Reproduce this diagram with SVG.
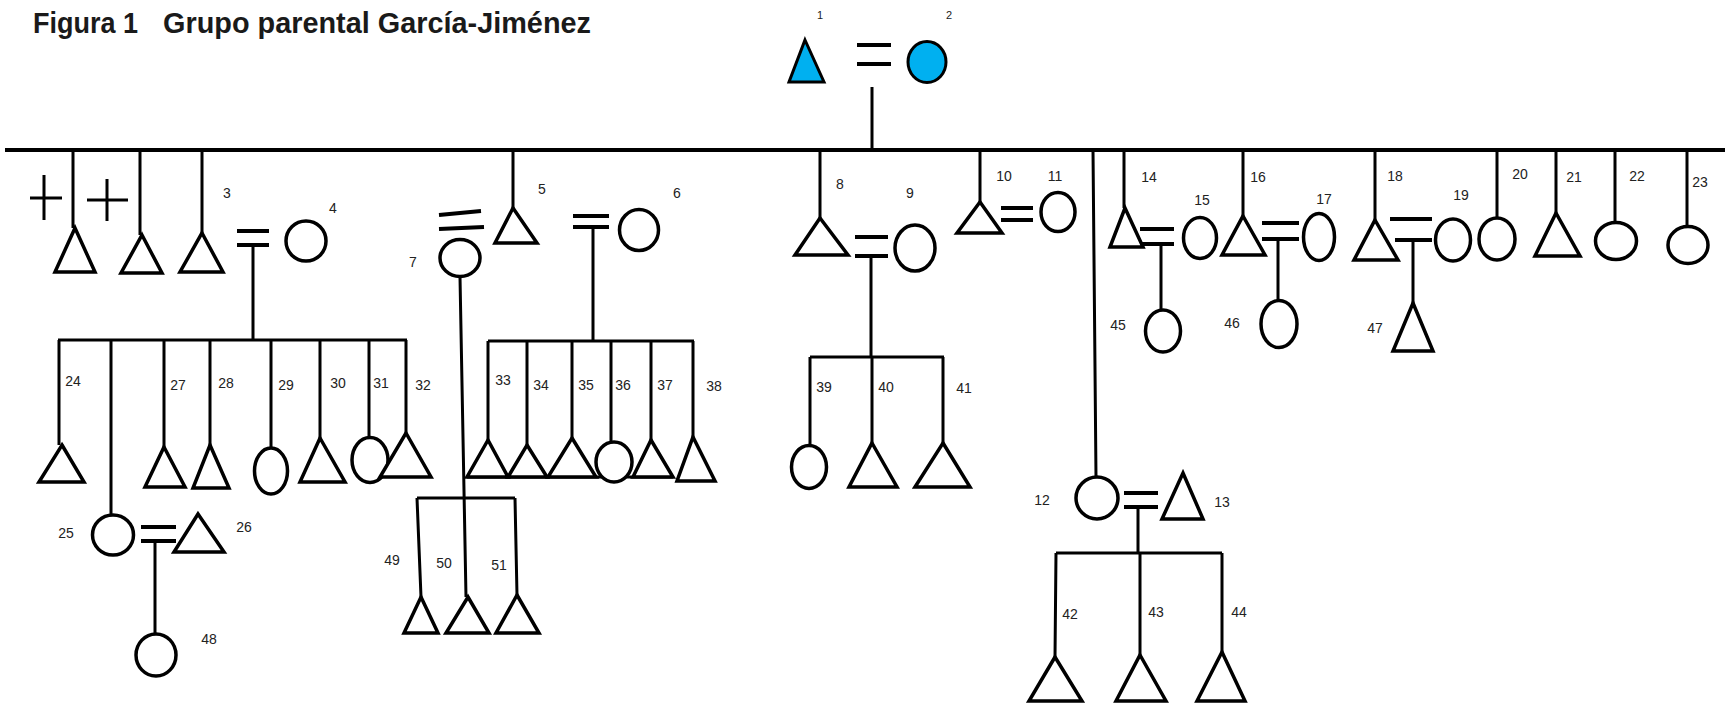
<svg xmlns="http://www.w3.org/2000/svg" width="1732" height="710" viewBox="0 0 1732 710">
<style>
.s{fill:#fff;stroke:#000;stroke-width:3.5;stroke-linejoin:miter}
.b{fill:#00B0F0;stroke:#000;stroke-width:3}
.c{fill:none;stroke:#000;stroke-width:3;stroke-linecap:butt}
.m{fill:none;stroke:#000;stroke-width:4}
.l{font-family:"Liberation Sans",Arial,sans-serif;font-size:14px;fill:#222;text-anchor:middle}
.t{font-family:"Liberation Sans",Arial,sans-serif;font-size:29px;font-weight:bold;fill:#1a1a1a}
</style>
<rect width="1732" height="710" fill="#fff"/>
<text class="t" x="33" y="33" textLength="105" lengthAdjust="spacingAndGlyphs">Figura 1</text>
<text class="t" x="163" y="33" textLength="428" lengthAdjust="spacingAndGlyphs">Grupo parental García-Jiménez</text>

<g id="connectors">
<path class="m" d="M5 150H1725"/>
<path class="c" d="M872 87V150"/>
<path class="m" d="M857 45H891M857 64H891"/>
<path class="c" d="M73 150V228M140 150V235M202 150V233M513 150V208M820 150V218M980 150V202M1093 150L1096 477M1124 150V208M1243 150V216M1375 150V220M1497 150V217M1556 150V213M1615 150V223M1687 150V226"/>
<path class="m" d="M237 231H269M237 245H269"/>
<path class="c" d="M253 245V340M58 340H407M59 340V445M111 340V515M164 340V447M210 340V445M271 340V448M320 340V438M369 340V437M406 340V433"/>
<path class="m" d="M141 527H176M141 541H176"/>
<path class="c" d="M155 541V634"/>
<path class="m" d="M439 215L481 211M439 229L484 227"/>
<path class="c" d="M460 277L466 597M417 498H515M417 498L421 597M515 498L517 595"/>
<path class="m" d="M573 216H609M573 227H609"/>
<path class="c" d="M593 227V341M488 341H694M488 341V440M527 341V445M572 341V438M611 341V442M651 341V440M693 341V437M467 477H673"/>
<path class="m" d="M855 237H888M855 256H888"/>
<path class="c" d="M871 256V357M810 357H944M810 357V445M872 357V443M943 357V443"/>
<path class="m" d="M1001 208H1033M1001 220H1033"/>
<path class="m" d="M1124 493H1158M1124 507H1158"/>
<path class="c" d="M1138 507V553M1056 553H1222M1056 553L1055 657M1140 553V655M1222 553V652"/>
<path class="m" d="M1140 229H1174M1140 244H1174"/>
<path class="c" d="M1161 244V310"/>
<path class="m" d="M1262 223H1299M1262 239H1299"/>
<path class="c" d="M1278 239V300"/>
<path class="m" d="M1390 219H1432M1395 240H1432"/>
<path class="c" d="M1413 240V303"/>
</g>

<g id="n1"><path class="b" d="M805 40L824 82H789Z"/><text class="l" style="font-size:11px" x="820" y="19">1</text></g>
<g id="n2"><ellipse class="b" cx="927" cy="62" rx="19" ry="20.5"/><text class="l" style="font-size:11px" x="949" y="19">2</text></g>

<g id="nx1"><path class="s" d="M75 228L95 272H55Z"/><path class="c" d="M30 198H62M44 175V220"/></g>
<g id="nx2"><path class="s" d="M142 235L162 273H121Z"/><path class="c" d="M87 200H128M107 179V221"/></g>
<g id="n3"><path class="s" d="M202 233L223 272H180Z"/><text class="l" x="227" y="198">3</text></g>
<g id="n4"><ellipse class="s" cx="306" cy="241" rx="20" ry="20"/><text class="l" x="333" y="213">4</text></g>
<g id="n5"><path class="s" d="M513 208L537 243H495Z"/><text class="l" x="542" y="194">5</text></g>
<g id="n6"><ellipse class="s" cx="639" cy="230" rx="19.5" ry="20.5"/><text class="l" x="677" y="198">6</text></g>
<g id="n7"><ellipse class="s" cx="460" cy="258" rx="20" ry="18.5"/><text class="l" x="413" y="267">7</text></g>
<g id="n8"><path class="s" d="M820 218L848 255H795Z"/><text class="l" x="840" y="189">8</text></g>
<g id="n9"><ellipse class="s" cx="915" cy="248" rx="20" ry="23"/><text class="l" x="910" y="198">9</text></g>
<g id="n10"><path class="s" d="M980 202L1002 233H957Z"/><text class="l" x="1004" y="181">10</text></g>
<g id="n11"><ellipse class="s" cx="1058" cy="212" rx="17" ry="19.5"/><text class="l" x="1055" y="181">11</text></g>
<g id="n12"><ellipse class="s" cx="1097" cy="498" rx="21" ry="21"/><text class="l" x="1042" y="505">12</text></g>
<g id="n13"><path class="s" d="M1183 473L1203 519H1162Z"/><text class="l" x="1222" y="507">13</text></g>
<g id="n14"><path class="s" d="M1125 208L1143 247H1110Z"/><text class="l" x="1149" y="182">14</text></g>
<g id="n15"><ellipse class="s" cx="1200" cy="238" rx="16.5" ry="20.5"/><text class="l" x="1202" y="205">15</text></g>
<g id="n16"><path class="s" d="M1243 216L1265 255H1222Z"/><text class="l" x="1258" y="182">16</text></g>
<g id="n17"><ellipse class="s" cx="1319" cy="237" rx="15.5" ry="23.5"/><text class="l" x="1324" y="204">17</text></g>
<g id="n18"><path class="s" d="M1375 220L1398 260H1354Z"/><text class="l" x="1395" y="181">18</text></g>
<g id="n19"><ellipse class="s" cx="1453" cy="240" rx="17.5" ry="21"/><text class="l" x="1461" y="200">19</text></g>
<g id="n20"><ellipse class="s" cx="1497" cy="239" rx="18" ry="21"/><text class="l" x="1520" y="179">20</text></g>
<g id="n21"><path class="s" d="M1556 213L1580 256H1535Z"/><text class="l" x="1574" y="182">21</text></g>
<g id="n22"><ellipse class="s" cx="1616" cy="241" rx="20.5" ry="18.5"/><text class="l" x="1637" y="181">22</text></g>
<g id="n23"><ellipse class="s" cx="1688" cy="245" rx="20" ry="18.5"/><text class="l" x="1700" y="187">23</text></g>

<g id="n24"><path class="s" d="M62 445L84 482H39Z"/><text class="l" x="73" y="386">24</text></g>
<g id="n25"><ellipse class="s" cx="113" cy="535" rx="20.5" ry="20"/><text class="l" x="66" y="538">25</text></g>
<g id="n26"><path class="s" d="M198 514L224 552H174Z"/><text class="l" x="244" y="532">26</text></g>
<g id="n27"><path class="s" d="M164 447L185 487H145Z"/><text class="l" x="178" y="390">27</text></g>
<g id="n28"><path class="s" d="M210 445L229 488H193Z"/><text class="l" x="226" y="388">28</text></g>
<g id="n29"><ellipse class="s" cx="271" cy="471" rx="16.5" ry="23"/><text class="l" x="286" y="390">29</text></g>
<g id="n30"><path class="s" d="M320 438L345 482H300Z"/><text class="l" x="338" y="388">30</text></g>
<g id="n31"><ellipse class="s" cx="370" cy="460" rx="18" ry="22.5"/><text class="l" x="381" y="388">31</text></g>
<g id="n32"><path class="s" d="M406 433L431 477H380Z"/><text class="l" x="423" y="390">32</text></g>
<g id="n33"><path class="s" d="M488 440L508 477H467Z"/><text class="l" x="503" y="385">33</text></g>
<g id="n34"><path class="s" d="M527 445L547 477H508Z"/><text class="l" x="541" y="390">34</text></g>
<g id="n35"><path class="s" d="M572 438L596 477H548Z"/><text class="l" x="586" y="390">35</text></g>
<g id="n36"><ellipse class="s" cx="614" cy="462" rx="18" ry="20"/><text class="l" x="623" y="390">36</text></g>
<g id="n37"><path class="s" d="M651 440L673 477H633Z"/><text class="l" x="665" y="390">37</text></g>
<g id="n38"><path class="s" d="M693 437L715 481H677Z"/><text class="l" x="714" y="391">38</text></g>
<g id="n39"><ellipse class="s" cx="809" cy="467" rx="17.5" ry="21.5"/><text class="l" x="824" y="392">39</text></g>
<g id="n40"><path class="s" d="M872 443L897 487H849Z"/><text class="l" x="886" y="392">40</text></g>
<g id="n41"><path class="s" d="M943 443L970 487H915Z"/><text class="l" x="964" y="393">41</text></g>
<g id="n42"><path class="s" d="M1055 657L1082 701H1029Z"/><text class="l" x="1070" y="619">42</text></g>
<g id="n43"><path class="s" d="M1140 655L1166 701H1116Z"/><text class="l" x="1156" y="617">43</text></g>
<g id="n44"><path class="s" d="M1222 652L1245 701H1197Z"/><text class="l" x="1239" y="617">44</text></g>
<g id="n45"><ellipse class="s" cx="1163" cy="331" rx="17.5" ry="21"/><text class="l" x="1118" y="330">45</text></g>
<g id="n46"><ellipse class="s" cx="1279" cy="324" rx="18" ry="23.5"/><text class="l" x="1232" y="328">46</text></g>
<g id="n47"><path class="s" d="M1413 303L1433 351H1393Z"/><text class="l" x="1375" y="333">47</text></g>
<g id="n48"><ellipse class="s" cx="156" cy="655" rx="20" ry="21"/><text class="l" x="209" y="644">48</text></g>
<g id="n49"><path class="s" d="M421 597L438 633H404Z"/><text class="l" x="392" y="565">49</text></g>
<g id="n50"><path class="s" d="M468 597L489 633H446Z"/><text class="l" x="444" y="568">50</text></g>
<g id="n51"><path class="s" d="M517 595L539 633H496Z"/><text class="l" x="499" y="570">51</text></g>
</svg>
